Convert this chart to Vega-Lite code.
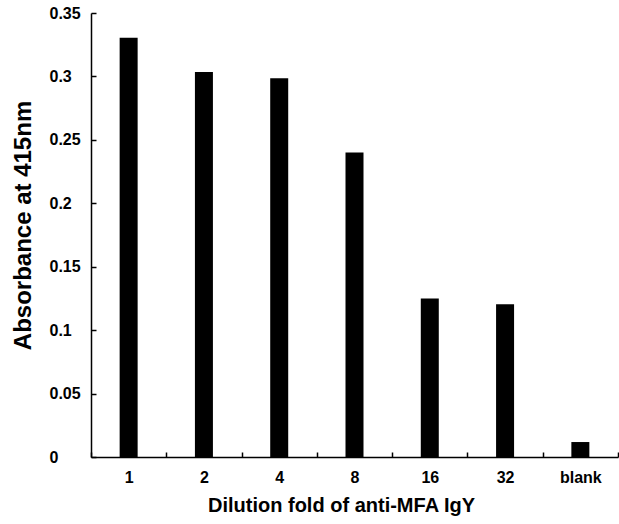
{
  "$schema": "https://vega.github.io/schema/vega-lite/v6.json",
  "width": 527,
  "height": 444,
  "autosize": "none",
  "padding": {"left": 91, "top": 13, "right": 1, "bottom": 67},
  "background": "white",
  "config": {
    "view": {"stroke": null},
    "font": "Liberation Sans",
    "axis": {"grid": false, "domainColor": "black", "tickColor": "black", "labelColor": "black", "titleColor": "black", "labelFont": "Liberation Sans", "titleFont": "Liberation Sans", "labelFontWeight": "bold", "titleFontWeight": "bold", "domainWidth": 1.5, "tickWidth": 1.5}
  },
  "data": {
    "values": [
      {"dilution": "1", "absorbance": 0.3305},
      {"dilution": "2", "absorbance": 0.3035},
      {"dilution": "4", "absorbance": 0.2985},
      {"dilution": "8", "absorbance": 0.240},
      {"dilution": "16", "absorbance": 0.125},
      {"dilution": "32", "absorbance": 0.1205},
      {"dilution": "blank", "absorbance": 0.0118}
    ]
  },
  "mark": {"type": "bar", "color": "black", "width": 18},
  "encoding": {
    "x": {
      "field": "dilution",
      "type": "nominal",
      "sort": null,
      "scale": {"paddingInner": 0, "paddingOuter": 0},
      "axis": {"title": "Dilution fold of anti-MFA IgY", "labelAngle": 0, "labelFontSize": 16, "titleFontSize": 20, "tickSize": -5, "tickBand": "extent", "labelPadding": 17, "titlePadding": 10, "titleX": 250}
    },
    "y": {
      "field": "absorbance",
      "type": "quantitative",
      "scale": {"domain": [0, 0.35], "nice": false},
      "axis": {"title": "Absorbance at 415nm", "values": [0, 0.05, 0.1, 0.15, 0.2, 0.25, 0.3, 0.35], "labelExpr": "'' + round(datum.value*100)/100", "labelFontSize": 16, "labelAlign": "left", "titleFontSize": 24, "tickSize": -5, "labelPadding": 47, "titlePadding": 14, "titleY": 212}
    }
  }
}
